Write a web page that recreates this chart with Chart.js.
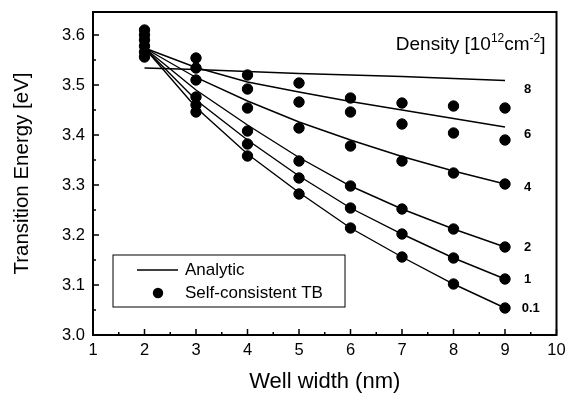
<!DOCTYPE html>
<html>
<head>
<meta charset="utf-8">
<script src="https://cdn.jsdelivr.net/npm/chart.js@4/dist/chart.umd.min.js"></script>
<style>
  html, body { margin: 0; padding: 0; background: #fff; }
  #wrap { width: 566px; height: 398px; position: relative; }
</style>
</head>
<body>
<div id="wrap"><canvas id="c" width="566" height="398"></canvas></div>
<script>
// ---- data ----
const wellWidth = [2, 3, 4, 5, 6, 7, 8, 9];
const densities = ['0.1', '1', '2', '4', '6', '8'];

const analytic_01 = [3.574, 3.455, 3.362, 3.285, 3.214, 3.156, 3.102, 3.054];
const analytic_1  = [3.574, 3.470, 3.390, 3.318, 3.254, 3.202, 3.154, 3.112];
const analytic_2  = [3.574, 3.490, 3.420, 3.355, 3.298, 3.252, 3.212, 3.176];
const analytic_4  = [3.574, 3.515, 3.468, 3.426, 3.390, 3.357, 3.328, 3.302];
const analytic_6  = [3.574, 3.535, 3.506, 3.486, 3.467, 3.450, 3.433, 3.416];
const analytic_8  = [3.534, 3.531, 3.527, 3.523, 3.520, 3.517, 3.513, 3.509];

const tb_01 = [3.610, 3.446, 3.358, 3.282, 3.214, 3.156, 3.102, 3.054];
const tb_1  = [3.600, 3.460, 3.382, 3.314, 3.254, 3.202, 3.154, 3.112];
const tb_2  = [3.590, 3.476, 3.408, 3.348, 3.298, 3.252, 3.212, 3.176];
const tb_4  = [3.578, 3.510, 3.454, 3.414, 3.378, 3.348, 3.324, 3.302];
const tb_6  = [3.566, 3.534, 3.492, 3.466, 3.446, 3.422, 3.404, 3.390];
const tb_8  = [3.556, 3.554, 3.520, 3.504, 3.474, 3.464, 3.458, 3.454];

// curve-label anchor positions (data coordinates)
const labelX = [9.50, 9.44, 9.44, 9.44, 9.44, 9.44];
const labelY = [3.054, 3.112, 3.176, 3.296, 3.402, 3.492];

const xTicks = [1, 2, 3, 4, 5, 6, 7, 8, 9, 10];
const yTicks = [3.0, 3.1, 3.2, 3.3, 3.4, 3.5, 3.6];
const xMinorTicks = [1.5, 2.5, 3.5, 4.5, 5.5, 6.5, 7.5, 8.5, 9.5];
const yMinorTicks = [3.05, 3.15, 3.25, 3.35, 3.45, 3.55];

const analyticSeries = [analytic_01, analytic_1, analytic_2, analytic_4, analytic_6, analytic_8];
const tbSeries = [tb_01, tb_1, tb_2, tb_4, tb_6, tb_8];

const pts = arr => arr.map((v, i) => ({ x: wellWidth[i], y: v }));

const datasets = [];
analyticSeries.forEach((s, i) => datasets.push({
  type: 'line', label: 'Analytic ' + densities[i], data: pts(s),
  borderColor: '#000', borderWidth: 1.4, pointRadius: 0, fill: false, tension: 0
}));
tbSeries.forEach((s, i) => datasets.push({
  type: 'scatter', label: 'TB ' + densities[i], data: pts(s),
  backgroundColor: '#000', borderColor: '#000', pointRadius: 5.2, pointHoverRadius: 5.2, showLine: false
}));

const FONT = 'Arial, "Liberation Sans", sans-serif';

const decor = {
  id: 'decor',
  afterDatasetsDraw(chart) {
    const { ctx, chartArea: a, scales: { x, y } } = chart;
    ctx.save();
    // frame
    ctx.strokeStyle = '#000';
    ctx.lineWidth = 2;
    ctx.strokeRect(a.left, a.top, a.right - a.left, a.bottom - a.top);
    // inward ticks
    ctx.lineWidth = 1.5;
    ctx.beginPath();
    xTicks.forEach(v => { const px = x.getPixelForValue(v); ctx.moveTo(px, a.bottom); ctx.lineTo(px, a.bottom - 6); });
    xMinorTicks.forEach(v => { const px = x.getPixelForValue(v); ctx.moveTo(px, a.bottom); ctx.lineTo(px, a.bottom - 3); });
    yTicks.forEach(v => { const py = y.getPixelForValue(v); ctx.moveTo(a.left, py); ctx.lineTo(a.left + 6, py); });
    yMinorTicks.forEach(v => { const py = y.getPixelForValue(v); ctx.moveTo(a.left, py); ctx.lineTo(a.left + 3, py); });
    ctx.stroke();

    // curve labels
    ctx.fillStyle = '#000';
    ctx.font = 'bold 13px ' + FONT;
    ctx.textAlign = 'center';
    ctx.textBaseline = 'middle';
    densities.forEach((d, i) => {
      ctx.fillText(d, x.getPixelForValue(labelX[i]), y.getPixelForValue(labelY[i]));
    });

    // density title (right aligned)
    ctx.textAlign = 'left';
    ctx.textBaseline = 'alphabetic';
    const parts = [['Density [10', 19, 0], ['12', 12, -8], ['cm', 19, 0], ['-2', 12, -8], [']', 19, 0]];
    let total = 0;
    parts.forEach(([t, sz]) => { ctx.font = sz + 'px ' + FONT; total += ctx.measureText(t).width; });
    let tx = a.right - 11 - total, ty = 50;
    parts.forEach(([t, sz, dy]) => {
      ctx.font = sz + 'px ' + FONT;
      ctx.fillText(t, tx, ty + dy);
      tx += ctx.measureText(t).width;
    });

    // legend
    const lx = a.left + 20, ly = a.bottom - 80, lw = 232, lh = 52;
    ctx.lineWidth = 1;
    ctx.strokeRect(lx, ly, lw, lh);
    ctx.lineWidth = 1.4;
    ctx.beginPath();
    ctx.moveTo(lx + 24, ly + 15); ctx.lineTo(lx + 65, ly + 15);
    ctx.stroke();
    ctx.beginPath();
    ctx.arc(lx + 45, ly + 38, 5.2, 0, Math.PI * 2);
    ctx.fill();
    ctx.font = '17px ' + FONT;
    ctx.textBaseline = 'middle';
    ctx.fillText('Analytic', lx + 72, ly + 15);
    ctx.fillText('Self-consistent TB', lx + 72, ly + 38);
    ctx.restore();
  }
};

new Chart(document.getElementById('c'), {
  data: { datasets },
  options: {
    responsive: false,
    animation: false,
    events: [],
    layout: { padding: { left: 0, top: 12, right: 9.5, bottom: 0 } },
    plugins: { legend: { display: false }, tooltip: { enabled: false } },
    scales: {
      x: {
        type: 'linear', min: 1, max: 10,
        afterBuildTicks: s => { s.ticks = xTicks.map(v => ({ value: v })); },
        afterFit: s => { s.height = 63; s.paddingLeft = 0; s.paddingRight = 0; },
        grid: { display: false, drawTicks: false },
        border: { display: false },
        ticks: { color: '#000', font: { family: FONT, size: 16.5 }, padding: 6, callback: v => String(v) },
        title: { display: true, text: 'Well width (nm)', color: '#000', font: { family: FONT, size: 22 }, padding: { top: 4, bottom: 3 } }
      },
      y: {
        type: 'linear', min: 3.0, max: 3.646,
        afterBuildTicks: s => { s.ticks = yTicks.map(v => ({ value: v })); },
        afterFit: s => { s.width = 93; s.paddingTop = 0; s.paddingBottom = 0; },
        grid: { display: false, drawTicks: false },
        border: { display: false },
        ticks: { color: '#000', font: { family: FONT, size: 16.5 }, padding: 8, callback: v => Number(v).toFixed(1) },
        title: { display: true, text: 'Transition Energy [eV]', color: '#000', font: { family: FONT, size: 20.5 }, padding: { top: 10 } }
      }
    }
  },
  plugins: [decor]
});
</script>
</body>
</html>
